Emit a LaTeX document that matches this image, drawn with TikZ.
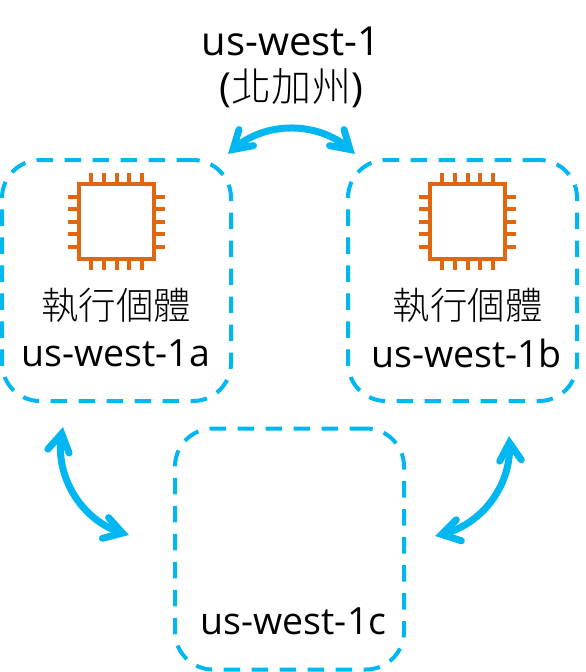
\documentclass[tikz,border=0pt]{standalone}
\usepackage{fontspec}
\setmainfont{Open Sans}
\newfontfamily\cjk{Noto Sans CJK TC Light}
\usepackage{tikz}
\usetikzlibrary{arrows.meta}
\definecolor{azblue}{HTML}{00B7F1}
\definecolor{chiporange}{HTML}{E0670F}
\pgfdeclarearrow{
    name=Chevron,
    setup code={
        \pgfarrowssettipend{0pt}
        \pgfarrowssetlineend{-7pt}
        \pgfarrowssetbackend{-28pt}
        \pgfarrowssetvisualbackend{-7pt}
    },
    drawing code={
        \pgfsetdash{}{0pt}
        \pgfsetroundcap
        \pgfsetmiterjoin
        \pgfpathmoveto{\pgfqpoint{-24.5pt}{10.8pt}}
        \pgfpathlineto{\pgfqpoint{-6.8pt}{0pt}}
        \pgfpathlineto{\pgfqpoint{-24.5pt}{-10.8pt}}
        \pgfusepathqstroke
    }
}
\tikzset{
    zonebox/.style={draw=azblue, line width=4pt, dash pattern=on 16.5pt off 11.5pt, rounded corners=38pt, minimum width=229pt, minimum height=241pt},
    chipbox/.style={draw=chiporange, line width=4pt, minimum size=75pt, inner sep=0pt},
    pin/.style={draw=chiporange, line width=4pt},
    link/.style={draw=azblue, line width=7pt, Chevron-Chevron},
    label/.style={inner sep=0pt, font=\fontsize{37.5}{46}\selectfont, text=black},
    toplabel/.style={inner sep=0pt, align=center, font=\fontsize{40}{46}\selectfont, text=black},
    cjklabel/.style={inner sep=0pt, font=\fontsize{37.5}{46}\selectfont\cjk, text=black},
}
\begin{document}
\begin{tikzpicture}[x=1pt, y=-1pt]
        \useasboundingbox (0,0) rectangle (586,672);

        % Zones
        \node[zonebox] (ZA) at (116.5, 280.5) {};
        \node[zonebox] (ZB) at (462.5, 280.5) {};
        \node[zonebox] (ZC) at (289.5, 549) {};

        % Chips
        \node[chipbox] (CA) at (116.5, 221.7) {};
        \node[chipbox] (CB) at (467.5, 221.7) {};
        \foreach \c in {CA,CB} {
            \foreach \i in {-2,-1,0,1,2} {
                \draw[pin] ([xshift=\i*12.6pt]\c.north) -- ++(0,-9);
                \draw[pin] ([xshift=\i*12.6pt]\c.south) -- ++(0,9);
                \draw[pin] ([yshift=\i*12.6pt]\c.west) -- ++(-9,0);
                \draw[pin] ([yshift=\i*12.6pt]\c.east) -- ++(9,0);
            }
        }

        % Labels
        \node[toplabel] (TR) at (291, 67) {us-west-1\\({\cjk 北加州})};
        \node[cjklabel] (TA) at (116.5, 305) {執行個體};
        \node[cjklabel] (TB) at (467.5, 305) {執行個體};
        \node[label] (LA) at (115.5, 353) {us-west-1a};
        \node[label] (LB) at (466.5, 353) {us-west-1b};
        \node[label] (LC) at (293.5, 621) {us-west-1c};

        % Arrow ends
        \coordinate (A1) at (228, 154);
        \coordinate (A2) at (355, 154);
        \coordinate (B1) at (63, 427);
        \coordinate (B2) at (129, 535);
        \coordinate (C1) at (509, 436);
        \coordinate (C2) at (435, 536);

        % Arrows
        \draw[link] (A1) to[bend left=42] (A2);
        \draw[link] (B1) to[bend right=42] (B2);
        \draw[link] (C1) to[bend left=40] (C2);
    \end{tikzpicture}
\end{document}
